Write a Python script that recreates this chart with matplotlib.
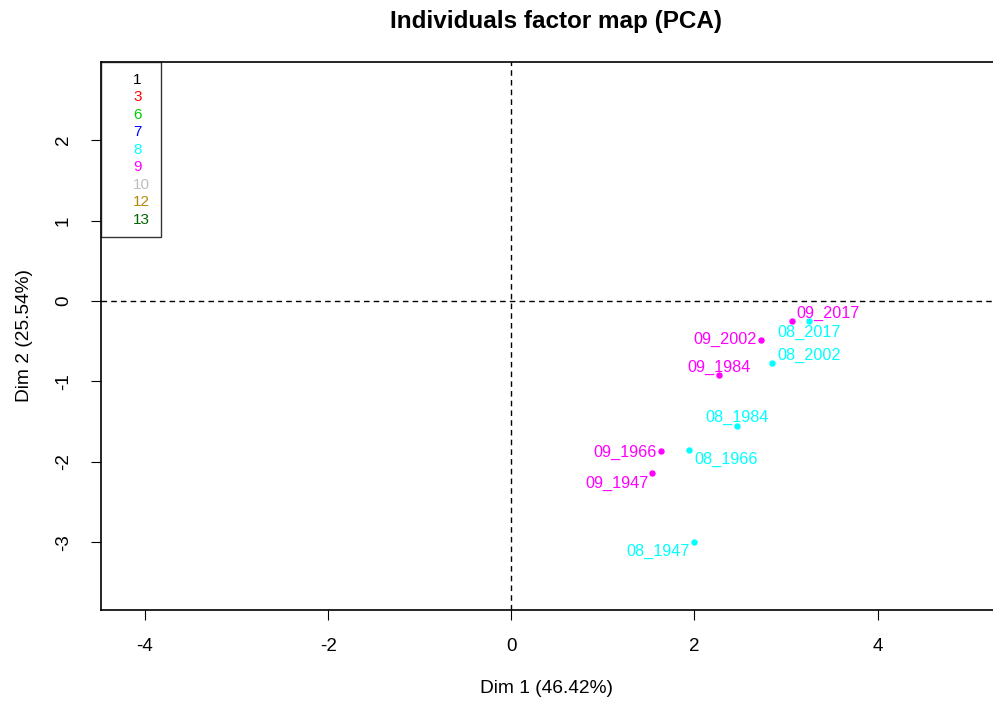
import matplotlib
matplotlib.use("Agg")
import matplotlib.pyplot as plt
from matplotlib.lines import Line2D

plt.rcParams['font.family'] = ['Liberation Sans', 'DejaVu Sans']

# individuals (PCA coordinates)
names = ["09_2017", "08_2017", "09_2002", "08_2002", "09_1984",
         "08_1984", "08_1966", "09_1966", "09_1947", "08_1947"]
dim1 = [3.07, 3.25, 2.73, 2.85, 2.27, 2.47, 1.94, 1.63, 1.54, 1.99]
dim2 = [-0.25, -0.25, -0.48, -0.77, -0.92, -1.55, -1.85, -1.87, -2.14, -3.00]
group = ["9", "8", "9", "8", "9", "8", "8", "9", "9", "8"]

# legend entries (habillage levels)
legend_labels = ["1", "3", "6", "7", "8", "9", "10", "12", "13"]
legend_colors = ["black", "#FF0000", "#00CD00", "#0000FF", "#00FFFF",
                 "#FF00FF", "#BEBEBE", "#B8860B", "#006400"]
col_of = dict(zip(legend_labels, legend_colors))

# label offsets in pixels (dx, dy, ha) to mimic the repelled labels
label_pos = {
    "09_2017": (4, 8, "left"),
    "08_2017": (0, -11, "center"),
    "09_2002": (-5, 0, "right"),
    "08_2002": (5, 8, "left"),
    "09_1984": (0, 8, "center"),
    "08_1984": (0, 8, "center"),
    "08_1966": (5, -10, "left"),
    "09_1966": (-4, -1, "right"),
    "09_1947": (-4, -10, "right"),
    "08_1947": (-4, -9, "right"),
}

fig = plt.figure(figsize=(9.93, 7.02), dpi=100)
ax = fig.add_axes([101 / 993, 1 - 610 / 702, 892 / 993, 548 / 702])

ax.axhline(0, color="black", lw=1, ls=(0, (4, 3)))
ax.axvline(0, color="black", lw=1, ls=(0, (4, 3)))

for n, x, y, g in zip(names, dim1, dim2, group):
    c = col_of[g]
    ax.plot(x, y, "o", color=c, ms=3.6, mec=c)
    dx, dy, ha = label_pos[n]
    ax.annotate(n, (x, y), xytext=(dx * 0.72, dy * 0.72), textcoords="offset points",
                ha=ha, va="center", color=c, fontsize=11.7)

ax.set_xlim(-4.48, 5.26)
ax.set_ylim(-3.84, 2.97)
ax.set_xticks([-4, -2, 0, 2, 4])
ax.set_yticks([-3, -2, -1, 0, 1, 2])
ax.set_xticklabels(["-4", "-2", "0", "2", "4"], fontsize=13.5)
ax.set_yticklabels(["-3", "-2", "-1", "0", "1", "2"], rotation=90, va="center", fontsize=13.5)
ax.tick_params(axis="x", length=7, width=0.8, pad=13)
ax.tick_params(axis="y", length=7, width=0.8, pad=14)
ax.spines["right"].set_visible(False)
for s in ["left", "top", "bottom"]:
    ax.spines[s].set_linewidth(1.2)

ax.set_xlabel("Dim 1 (46.42%)", fontsize=13.8, labelpad=18)
ax.set_ylabel("Dim 2 (25.54%)", fontsize=13.8, labelpad=16)
fig.suptitle("Individuals factor map (PCA)", x=556 / 993, y=1 - 10 / 702,
             fontsize=17.5, fontweight="bold", va="top")

handles = [Line2D([], [], ls="none") for _ in legend_labels]
leg = ax.legend(handles, legend_labels, loc="upper left", frameon=True, fancybox=False,
                handlelength=1.1, handletextpad=0.3, borderaxespad=0, borderpad=0.7,
                labelspacing=0.23, fontsize=11, labelcolor=legend_colors,
                edgecolor="black")
leg.get_frame().set_linewidth(1.0)

fig.savefig("out.png", dpi=100)
